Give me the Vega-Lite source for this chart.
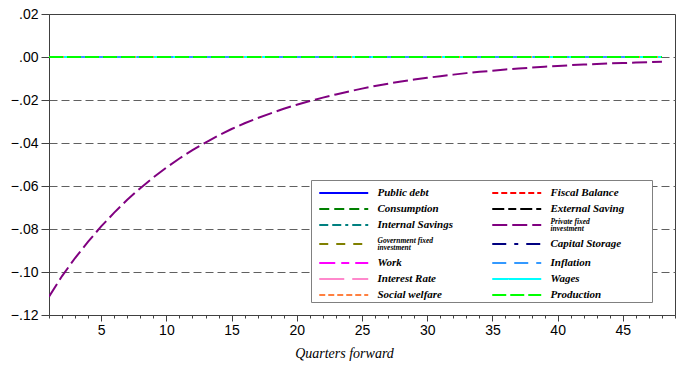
{
  "$schema": "https://vega.github.io/schema/vega-lite/v6.json",
  "width": 626,
  "height": 301,
  "autosize": "none",
  "padding": {"left": 49, "top": 14, "right": 7, "bottom": 56},
  "background": "white",
  "config": {"view": {"stroke": "#404040", "strokeWidth": 1}, "font": "Liberation Sans"},
  "data": {"values": [
    {"s": "Private fixed investment", "q": 1, "v": -0.1115},
    {"s": "Private fixed investment", "q": 2, "v": -0.1019},
    {"s": "Private fixed investment", "q": 3, "v": -0.0935},
    {"s": "Private fixed investment", "q": 4, "v": -0.0859},
    {"s": "Private fixed investment", "q": 5, "v": -0.0788},
    {"s": "Private fixed investment", "q": 6, "v": -0.0724},
    {"s": "Private fixed investment", "q": 7, "v": -0.0664},
    {"s": "Private fixed investment", "q": 8, "v": -0.0610},
    {"s": "Private fixed investment", "q": 9, "v": -0.0560},
    {"s": "Private fixed investment", "q": 10, "v": -0.0514},
    {"s": "Private fixed investment", "q": 11, "v": -0.0472},
    {"s": "Private fixed investment", "q": 12, "v": -0.0433},
    {"s": "Private fixed investment", "q": 13, "v": -0.0398},
    {"s": "Private fixed investment", "q": 14, "v": -0.0365},
    {"s": "Private fixed investment", "q": 15, "v": -0.0335},
    {"s": "Private fixed investment", "q": 16, "v": -0.0308},
    {"s": "Private fixed investment", "q": 17, "v": -0.0284},
    {"s": "Private fixed investment", "q": 18, "v": -0.0262},
    {"s": "Private fixed investment", "q": 19, "v": -0.0241},
    {"s": "Private fixed investment", "q": 20, "v": -0.0222},
    {"s": "Private fixed investment", "q": 21, "v": -0.0205},
    {"s": "Private fixed investment", "q": 22, "v": -0.0189},
    {"s": "Private fixed investment", "q": 23, "v": -0.0174},
    {"s": "Private fixed investment", "q": 24, "v": -0.0160},
    {"s": "Private fixed investment", "q": 25, "v": -0.0147},
    {"s": "Private fixed investment", "q": 26, "v": -0.0135},
    {"s": "Private fixed investment", "q": 27, "v": -0.0124},
    {"s": "Private fixed investment", "q": 28, "v": -0.0114},
    {"s": "Private fixed investment", "q": 29, "v": -0.0105},
    {"s": "Private fixed investment", "q": 30, "v": -0.0097},
    {"s": "Private fixed investment", "q": 31, "v": -0.0089},
    {"s": "Private fixed investment", "q": 32, "v": -0.0082},
    {"s": "Private fixed investment", "q": 33, "v": -0.0075},
    {"s": "Private fixed investment", "q": 34, "v": -0.0069},
    {"s": "Private fixed investment", "q": 35, "v": -0.0064},
    {"s": "Private fixed investment", "q": 36, "v": -0.0058},
    {"s": "Private fixed investment", "q": 37, "v": -0.0054},
    {"s": "Private fixed investment", "q": 38, "v": -0.0049},
    {"s": "Private fixed investment", "q": 39, "v": -0.0045},
    {"s": "Private fixed investment", "q": 40, "v": -0.0042},
    {"s": "Private fixed investment", "q": 41, "v": -0.0038},
    {"s": "Private fixed investment", "q": 42, "v": -0.0035},
    {"s": "Private fixed investment", "q": 43, "v": -0.0033},
    {"s": "Private fixed investment", "q": 44, "v": -0.0030},
    {"s": "Private fixed investment", "q": 45, "v": -0.0028},
    {"s": "Private fixed investment", "q": 46, "v": -0.0026},
    {"s": "Private fixed investment", "q": 47, "v": -0.0024},
    {"s": "Private fixed investment", "q": 48, "v": -0.0022},
    {"s": "Public debt", "q": 1, "v": 0}, {"s": "Public debt", "q": 48, "v": 0},
    {"s": "Fiscal Balance", "q": 1, "v": 0}, {"s": "Fiscal Balance", "q": 48, "v": 0},
    {"s": "Consumption", "q": 1, "v": 0}, {"s": "Consumption", "q": 48, "v": 0},
    {"s": "External Saving", "q": 1, "v": 0}, {"s": "External Saving", "q": 48, "v": 0},
    {"s": "Internal Savings", "q": 1, "v": 0}, {"s": "Internal Savings", "q": 48, "v": 0},
    {"s": "Government fixed investment", "q": 1, "v": 0}, {"s": "Government fixed investment", "q": 48, "v": 0},
    {"s": "Capital Storage", "q": 1, "v": 0}, {"s": "Capital Storage", "q": 48, "v": 0},
    {"s": "Work", "q": 1, "v": 0}, {"s": "Work", "q": 48, "v": 0},
    {"s": "Interest Rate", "q": 1, "v": 0}, {"s": "Interest Rate", "q": 48, "v": 0},
    {"s": "Wages", "q": 1, "v": 0}, {"s": "Wages", "q": 48, "v": 0},
    {"s": "Social welfare", "q": 1, "v": 0}, {"s": "Social welfare", "q": 48, "v": 0},
    {"s": "Inflation", "q": 1, "v": 0}, {"s": "Inflation", "q": 48, "v": 0},
    {"s": "Production", "q": 1, "v": 0}, {"s": "Production", "q": 48, "v": 0}
  ]},
  "mark": {"type": "line", "strokeWidth": 2, "clip": true},
  "encoding": {
    "x": {
      "field": "q", "type": "quantitative",
      "scale": {"domain": [1, 49], "nice": false, "zero": false},
      "axis": {
        "values": [1,2,3,4,5,6,7,8,9,10,11,12,13,14,15,16,17,18,19,20,21,22,23,24,25,26,27,28,29,30,31,32,33,34,35,36,37,38,39,40,41,42,43,44,45,46,47,48,49],
        "labelExpr": "datum.value % 5 == 0 ? datum.label : ''",
        "labelOverlap": false, "labelFlush": false,
        "grid": false,
        "tickSize": {"condition": {"test": "datum.value % 5 == 0", "value": 6}, "value": 3},
        "tickColor": "#404040", "domainColor": "#404040",
        "labelFontSize": 14, "labelColor": "#000", "labelPadding": 2,
        "title": "Quarters forward", "titleFont": "Liberation Serif", "titleFontStyle": "italic",
        "titleFontWeight": "normal", "titleFontSize": 14, "titleColor": "#000",
        "titleX": 295, "titleY": 38, "titleBaseline": "middle", "titleAnchor": "middle"
      }
    },
    "y": {
      "field": "v", "type": "quantitative",
      "scale": {"domain": [-0.12, 0.02], "nice": false, "zero": false},
      "axis": {
        "values": [-0.12, -0.1, -0.08, -0.06, -0.04, -0.02, 0, 0.02],
        "labelExpr": "replace(format(datum.value, '.2f'), '0.', '.')",
        "grid": true, "gridDash": [8, 4], "gridWidth": 1,
        "gridColor": {"condition": {"test": "datum.value == 0.02 || datum.value == -0.12", "value": "transparent"}, "value": "#606060"},
        "tickSize": 8, "tickColor": "#404040", "domainColor": "#404040",
        "labelFontSize": 14, "labelColor": "#000", "labelPadding": 3,
        "title": null
      }
    },
    "color": {
      "field": "s", "type": "nominal",
      "scale": {
        "domain": ["Public debt", "Fiscal Balance", "Consumption", "External Saving", "Internal Savings", "Private fixed investment", "Government fixed investment", "Capital Storage", "Work", "Inflation", "Interest Rate", "Wages", "Social welfare", "Production"],
        "range": ["#0000FF", "#FF0000", "#008000", "#000000", "#008080", "#800080", "#808000", "#000080", "#FF00FF", "#3399FF", "#FF88CC", "#00FFFF", "#FF8040", "#00FF00"]
      },
      "legend": {
        "orient": "none", "legendX": 262, "legendY": 166,
        "direction": "horizontal", "columns": 2,
        "title": " ", "titleOrient": "right", "titlePadding": 26, "titleFontSize": 11,
        "symbolType": "M-0.487,0H4.538", "symbolSize": 380, "symbolStrokeWidth": 2,
        "labelFont": "Liberation Serif", "labelFontStyle": "italic", "labelFontWeight": "bold", "labelFontSize": 11, "labelColor": "#000",
        "labelOffset": 42.5, "labelLimit": 200,
        "columnPadding": 33, "rowPadding": -4.2, "padding": 2,
        "strokeColor": "#808080", "fillColor": "white",
        "labelExpr": "datum.label == 'Private fixed investment' ? ['Private fixed', 'investment'] : datum.label == 'Government fixed investment' ? ['Government fixed', 'investment'] : datum.label",
        "encode": {"labels": {"update": {
          "fontSize": {"signal": "indexof(['Private fixed investment', 'Government fixed investment'], datum.value) >= 0 ? 7.5 : 11"},
          "baseline": {"signal": "indexof(['Private fixed investment', 'Government fixed investment'], datum.value) >= 0 ? 'top' : 'middle'"},
          "dy": {"signal": "indexof(['Private fixed investment', 'Government fixed investment'], datum.value) >= 0 ? -7.5 : 0"},
          "lineHeight": {"value": 7.5}
        }}}
      }
    },
    "strokeDash": {
      "field": "s", "type": "nominal",
      "scale": {
        "domain": ["Public debt", "Fiscal Balance", "Consumption", "External Saving", "Internal Savings", "Private fixed investment", "Government fixed investment", "Capital Storage", "Work", "Inflation", "Interest Rate", "Wages", "Social welfare", "Production"],
        "range": [[1, 0], [6, 3], [10, 5], [12, 4, 8, 4], [9, 4, 9, 4, 3, 4], [15, 5], [9, 8], [14, 8, 4, 8], [16, 6, 8, 6], [14, 8], [25, 8], [1, 0], [6, 3], [14, 4]]
      }
    }
  }
}
